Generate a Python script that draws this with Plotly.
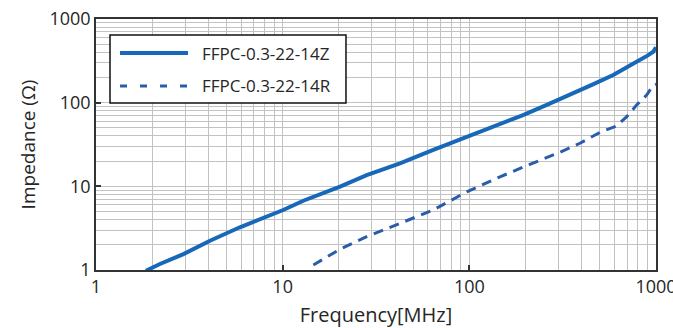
import numpy as np
import plotly.graph_objects as go

# Impedance vs. frequency for two FFPC cable variants
freq_z = [1.85, 2.2, 2.94, 4.08, 5.9, 7.5, 10.07, 12.9, 16.0, 20.3, 28.2, 42.5, 64.1,
          92.7, 146, 194, 260, 346, 450, 590, 700, 787, 900, 967, 1000]
imp_z = [0.98, 1.18, 1.55, 2.24, 3.24, 4.0, 5.21, 6.73, 8.0, 9.9, 13.6, 18.8, 27.2,
         37.4, 56.6, 71, 94, 123, 162, 214, 262, 308, 365, 406, 460]

freq_r = [14.6, 20.3, 28.2, 42.5, 64.1, 96.9, 146, 211, 305, 391, 501, 615, 697,
          787, 891, 967, 1000]
imp_r = [1.15, 1.77, 2.5, 3.61, 5.21, 8.6, 13.0, 18.3, 25.5, 32.7, 44.2, 52.6, 67.9,
         93.6, 123, 162, 166]

name_z = "FFPC-0.3-22-14Z"
name_r = "FFPC-0.3-22-14R"

decade_vals = [1, 10, 100, 1000]
decade_text = ["1", "10", "100", "1000"]
minor_vals = [k * 10 ** d for d in range(0, 3) for k in range(2, 10)]

color_z = "#1768b8"
color_r = "#2a5caa"
font_family = "Open Sans, Noto Sans, sans-serif"
text_color = "#262626"
grid_color = "#c2c2c2"
axis_color = "#333333"

fig = go.Figure()
fig.add_trace(go.Scatter(x=freq_z, y=imp_z, mode="lines", name=name_z,
                         line=dict(color=color_z, width=4), showlegend=False))
fig.add_trace(go.Scatter(x=freq_r, y=imp_r, mode="lines", name=name_r,
                         line=dict(color=color_r, width=3, dash="10px,7px"),
                         showlegend=False))

axis_common = dict(
    type="log",
    automargin=False,
    ticklabeloverflow="allow",
    tickmode="array",
    tickvals=decade_vals,
    ticktext=decade_text,
    showgrid=True,
    gridcolor=grid_color,
    gridwidth=1,
    minor=dict(tickmode="array", tickvals=minor_vals, showgrid=True,
               gridcolor=grid_color, gridwidth=1, ticks=""),
    ticks="inside",
    ticklen=5,
    tickwidth=1.5,
    tickcolor=axis_color,
    showline=True,
    linecolor=axis_color,
    linewidth=1.5,
    mirror=True,
    zeroline=False,
    tickfont=dict(family=font_family, size=18, color=text_color),
)

fig.update_xaxes(axis_common, range=[0, 3],
                 title=dict(text="Frequency[MHz]", standoff=11,
                            font=dict(family=font_family, size=20, color=text_color)))
fig.update_yaxes(axis_common, range=[0, 3],
                 title=dict(text="Impedance (Ω)", standoff=9,
                            font=dict(family=font_family, size=19, color=text_color)))

# Legend box drawn in paper coordinates
fig.add_shape(type="rect", xref="paper", yref="paper",
              x0=0.025, x1=0.4464, y0=0.6653, y1=0.9363,
              line=dict(color="#111111", width=1.5), fillcolor="white", layer="above")
legend_rows = [(name_z, color_z, 4, "solid", 0.8645),
               (name_r, color_r, 3, "7px,13px", 0.7331)]
for label, col, w, dash, yy in legend_rows:
    fig.add_shape(type="line", xref="paper", yref="paper",
                  x0=0.0429, x1=0.1643, y0=yy, y1=yy,
                  line=dict(color=col, width=w, dash=dash), layer="above")
    fig.add_annotation(xref="paper", yref="paper", x=0.1857, y=yy,
                       text=label, showarrow=False, xanchor="left", yanchor="middle",
                       font=dict(family=font_family, size=17, color=text_color))

fig.update_layout(
    width=673, height=328,
    margin=dict(l=96, r=17, t=19, b=58),
    paper_bgcolor="white",
    plot_bgcolor="white",
)

fig.write_html("out.html")
